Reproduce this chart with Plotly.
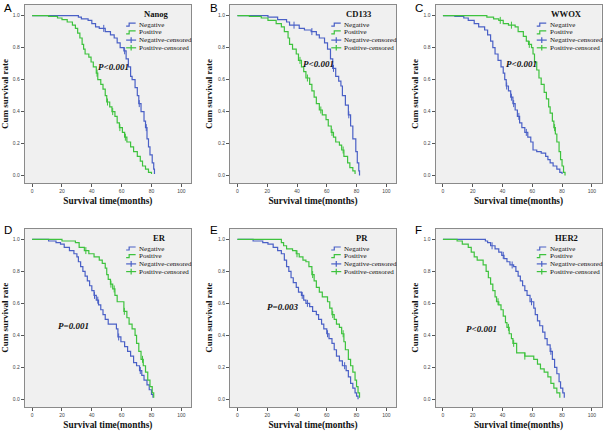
import numpy as np
import plotly.graph_objects as go

W, H = 607, 434
BLUE = "#4a60c6"
GREEN = "#3ec23e"
SERIF = "Liberation Serif, Times New Roman, serif"
SANS = "Liberation Sans, Arial, sans-serif"

panel_letters = ["A", "B", "C", "D", "E", "F"]
marker_names = ["Nanog", "CD133", "WWOX", "ER", "PR", "HER2"]
p_texts = ["P<0.001", "P<0.001", "P<0.001", "P=0.001", "P=0.003", "P<0.001"]
p_pos = [(43, 0.68), (43, 0.70), (41, 0.695), (16, 0.458), (18.3, 0.58), (14.2, 0.44)]
legend_labels = ["Negative", "Positive", "Negative-censored", "Positive-censored"]
x_ticks = [0, 20, 40, 60, 80, 100]
y_ticks = [0.0, 0.2, 0.4, 0.6, 0.8, 1.0]
x_title = "Survival time(months)"
y_title = "Cum survival rate"

# ---------------- survival data (time in months, cumulative survival) ----------------
a_neg_t = [0, 31, 33, 37.5, 40, 42.5, 45, 49, 52.5, 55, 57, 59, 61.5, 63, 64.5, 66, 67, 69, 70.5, 71.5, 73, 75, 76, 77, 78, 79, 80.5, 81.5, 82]
a_neg_s = [1, .99, .98, .97, .95, .93, .92, .90, .88, .86, .83, .80, .78, .73, .68, .62, .60, .55, .50, .45, .40, .34, .30, .23, .18, .13, .08, .04, .01]
a_pos_t = [0, 11, 17, 20, 23.5, 27, 29, 30.5, 32, 33.5, 34.5, 35.5, 38, 39.5, 41, 43, 44, 46, 47.5, 49, 50, 52, 53.5, 55.5, 57, 58.5, 60.5, 62, 63.5, 66, 68, 70.5, 72.5, 74, 76, 78, 80]
a_pos_s = [1, .995, .985, .975, .96, .94, .92, .89, .86, .82, .79, .76, .74, .71, .68, .64, .60, .57, .54, .50, .46, .43, .40, .37, .33, .30, .27, .24, .21, .18, .15, .12, .09, .06, .04, .02, .01]
a_neg_cens = [48, 62, 71.8, 76.5]
a_pos_cens = [43.5, 50.5, 54, 58.8, 62.5]

b_neg_t = [0, 20.5, 27, 33, 35, 41.5, 45, 49.5, 53, 55, 58.5, 60.5, 62.5, 64, 66, 68, 69.5, 70.5, 72.5, 74.5, 76, 77.5, 79.5, 80.5, 81.5, 82]
b_neg_s = [1, .99, .975, .96, .94, .92, .91, .90, .88, .86, .83, .79, .73, .67, .62, .59, .56, .50, .44, .38, .31, .23, .15, .08, .03, 0.0]
b_pos_t = [0, 8, 16, 20.5, 26, 29.5, 31.5, 34, 35, 37, 39.5, 41, 43, 44.5, 46, 48.5, 50, 51.5, 53, 55, 57, 59.5, 61, 63, 64.5, 66, 68.5, 70, 71.5, 74, 75.5, 77.5, 79]
b_pos_s = [1, .995, .985, .97, .95, .93, .90, .86, .82, .79, .76, .72, .68, .65, .61, .57, .53, .49, .45, .41, .38, .35, .31, .27, .24, .21, .19, .16, .12, .08, .05, .03, .01]
b_neg_cens = [38, 50, 64.5, 74.8]
b_pos_cens = [42, 47, 56, 63.5, 71]

c_neg_t = [0, 8, 14, 17, 21, 24, 28, 30, 32, 33.5, 35, 37, 39, 40.5, 41.5, 42.5, 44, 45.5, 47, 48.5, 50, 51.5, 53, 55, 57, 59, 60.5, 63, 66, 69, 70.5, 72, 74, 76.5, 78.5, 80]
c_neg_s = [1, .995, .985, .97, .95, .93, .91, .88, .84, .80, .76, .72, .68, .64, .60, .56, .53, .49, .45, .41, .37, .33, .30, .27, .24, .21, .16, .15, .14, .12, .10, .08, .06, .04, .02, .01]
c_pos_t = [0, 29.5, 34, 37.5, 40.5, 44, 48.5, 50.5, 54, 56, 57.5, 59.5, 60.5, 61.5, 63, 64.5, 66, 68, 69.5, 71, 72, 73.5, 74.5, 75.5, 76.5, 78, 79, 80, 81, 82]
c_pos_s = [1, .99, .98, .97, .95, .94, .93, .90, .87, .84, .82, .80, .76, .71, .66, .61, .57, .52, .48, .43, .39, .34, .30, .26, .21, .15, .10, .06, .02, 0.0]
c_neg_cens = [42.8, 46, 47.5, 51, 56]
c_pos_cens = [38.5, 46, 58, 75]

d_neg_t = [0, 11, 16, 19, 21.5, 25, 28, 30, 31, 32.5, 34, 35.5, 37, 38.5, 40, 41.5, 43, 44.5, 46, 47.5, 49, 51, 56.5, 57.5, 59.5, 62, 64, 66, 68, 70, 72, 73.5, 75, 77, 78.5, 80, 81]
d_neg_s = [1, .99, .98, .97, .95, .93, .91, .89, .86, .83, .80, .77, .74, .71, .68, .65, .62, .59, .56, .53, .50, .47, .44, .39, .36, .33, .30, .27, .23, .21, .18, .15, .12, .09, .06, .03, .01]
d_pos_t = [0, 20, 29, 31.5, 35, 38, 41.5, 45, 47, 49, 50, 51, 52.5, 54, 55.5, 57, 61.5, 63.5, 65, 67, 69, 70, 71.5, 73, 74.5, 76, 77.5, 79, 80.5, 81.5]
d_pos_s = [1, .99, .98, .95, .93, .91, .89, .87, .85, .82, .78, .75, .72, .69, .65, .61, .55, .51, .47, .44, .40, .35, .30, .25, .21, .17, .12, .08, .04, .01]
d_neg_cens = [41.8, 44, 58, 72.5]
d_pos_cens = [36, 52.8, 55, 61.8, 74]

e_neg_t = [0, 10.5, 17, 20.5, 24, 27, 29.5, 31.5, 33, 34.5, 36, 37.5, 39.5, 41, 43, 44.5, 46, 48.5, 50.5, 53, 54.5, 56.5, 58, 60, 61.5, 63.5, 65, 66.5, 68.5, 70.5, 73, 74.5, 76, 77.5, 79, 80, 81]
e_neg_s = [1, .99, .98, .97, .95, .93, .91, .87, .83, .80, .76, .73, .70, .67, .65, .62, .60, .58, .55, .53, .50, .47, .44, .41, .38, .35, .31, .27, .24, .21, .18, .14, .10, .07, .04, .02, 0.0]
e_pos_t = [0, 29.5, 31, 33, 37, 39.5, 41.5, 44, 46, 48, 50, 51.5, 53, 55, 57, 60.5, 62, 63.5, 65, 66.5, 68.5, 70, 71.5, 72.5, 74.5, 76, 77.5, 79, 80, 81, 82]
e_pos_s = [1, .98, .96, .94, .93, .91, .89, .87, .86, .83, .78, .74, .70, .67, .64, .61, .57, .53, .50, .47, .45, .41, .36, .31, .25, .21, .17, .12, .08, .04, .01]
e_neg_cens = [43.5, 47, 60.5, 72]
e_pos_cens = [40, 50.5, 64, 71]

f_neg_t = [0, 28.5, 30, 32, 35, 37.5, 39.5, 41, 43, 45, 47.5, 49, 50.5, 52, 53.5, 55, 56.5, 58.5, 61, 62, 63.5, 65, 67, 68.5, 70, 72, 73.5, 75, 76.5, 78, 79, 80.5, 81.5]
f_neg_s = [1, .99, .98, .96, .94, .92, .90, .88, .86, .84, .83, .80, .77, .74, .71, .68, .65, .61, .57, .53, .49, .46, .42, .38, .34, .30, .25, .20, .16, .11, .07, .04, .01]
f_pos_t = [0, 9.5, 13, 17, 19, 21, 23, 27, 29, 30.5, 32, 33.5, 35, 36, 37.5, 39, 40.5, 42, 43, 44.5, 46, 47, 49.5, 55, 61, 63.5, 65.5, 68, 70.5, 72.5, 74.5, 76.5, 78.5]
f_pos_s = [1, .99, .97, .95, .92, .89, .87, .84, .80, .76, .72, .68, .64, .61, .59, .56, .52, .48, .45, .41, .38, .35, .29, .27, .25, .22, .19, .17, .14, .10, .07, .04, .01]
f_neg_cens = [33, 40.5, 46.5, 59.5, 72.5]
f_pos_cens = [37, 44, 47.5, 55]

panels = [
    (a_neg_t, a_neg_s, a_pos_t, a_pos_s, a_neg_cens, a_pos_cens),
    (b_neg_t, b_neg_s, b_pos_t, b_pos_s, b_neg_cens, b_pos_cens),
    (c_neg_t, c_neg_s, c_pos_t, c_pos_s, c_neg_cens, c_pos_cens),
    (d_neg_t, d_neg_s, d_pos_t, d_pos_s, d_neg_cens, d_pos_cens),
    (e_neg_t, e_neg_s, e_pos_t, e_pos_s, e_neg_cens, e_pos_cens),
    (f_neg_t, f_neg_s, f_pos_t, f_pos_s, f_neg_cens, f_pos_cens),
]

# ---------------- layout geometry (pixels) ----------------
col_px = [(24.7, 191.0), (230.0, 396.0), (435.5, 601.5)]
row_px = [(4.7, 183.3), (228.5, 407.0)]
XR = [-5, 106.5]
YR = [-0.048, 1.068]
title_cx = [0.79, 0.775, 0.79, 0.81, 0.795, 0.79]


def step_value(t, s, c):
    idx = np.searchsorted(np.asarray(t), c, side="right") - 1
    return float(np.asarray(s)[idx])


def px2paper(x, y):
    return x / W, 1 - y / H


fig = go.Figure()
layout = dict(
    width=W, height=H, margin=dict(l=0, r=0, t=0, b=0),
    paper_bgcolor="white", plot_bgcolor="#f0f0f0", showlegend=False,
)
annotations = []
shapes = []

for i, (nt, ns, pt, ps, nc, pc) in enumerate(panels):
    r, c = divmod(i, 3)
    (fx0, fx1), (fy0, fy1) = col_px[c], row_px[r]
    sfx = "" if i == 0 else str(i + 1)
    xa, ya = "x" + sfx, "y" + sfx

    for t, s, color, name in [(nt, ns, BLUE, "Negative"), (pt, ps, GREEN, "Positive")]:
        fig.add_trace(go.Scatter(x=t, y=s, mode="lines", line=dict(color=color, width=1.2, shape="hv"),
                                 name=name, xaxis=xa, yaxis=ya, hoverinfo="skip"))
    for cens, t, s, color, name in [(nc, nt, ns, BLUE, "Negative-censored"), (pc, pt, ps, GREEN, "Positive-censored")]:
        fig.add_trace(go.Scatter(x=cens, y=[step_value(t, s, v) for v in cens], mode="markers",
                                 marker=dict(symbol="line-ns", size=5, line=dict(color=color, width=1)),
                                 name=name, xaxis=xa, yaxis=ya, hoverinfo="skip"))

    axcommon = dict(showline=True, mirror=True, linecolor="#8a8a8a", linewidth=1,
                    ticks="outside", ticklen=3, tickcolor="#555", tickwidth=1,
                    showgrid=False, zeroline=False, automargin=False,
                    tickfont=dict(family=SANS, size=5, color="#444"))
    layout["xaxis" + sfx] = dict(axcommon, domain=[fx0 / W, fx1 / W], range=XR,
                                 tickvals=x_ticks, ticktext=[str(v) for v in x_ticks],
                                 anchor=ya,
                                 title=dict(text=x_title, standoff=4,
                                            font=dict(family=SERIF, size=9.3, color="#111", weight="bold")))
    layout["yaxis" + sfx] = dict(axcommon, domain=[1 - fy1 / H, 1 - fy0 / H], range=YR,
                                 tickvals=y_ticks, ticktext=["%.1f" % v for v in y_ticks],
                                 anchor=xa,
                                 title=dict(text=y_title, standoff=3,
                                            font=dict(family=SERIF, size=9, color="#111", weight="bold")))

    # panel letter
    lx, ly = px2paper(fx0 - 22.5, max(0.0, fy0 - 7))
    annotations.append(dict(text=panel_letters[i], x=lx, y=ly, xref="paper", yref="paper",
                            xanchor="left", yanchor="top", showarrow=False,
                            font=dict(family=SANS, size=11.5, color="#000")))
    # p value
    px_, py_ = p_pos[i]
    annotations.append(dict(text="<b><i>%s</i></b>" % p_texts[i], x=px_, y=py_, xref=xa, yref=ya,
                            xanchor="left", yanchor="middle", showarrow=False,
                            font=dict(family=SERIF, size=9, color="#111")))
    # key drawn inside the frame
    w = fx1 - fx0
    tx, ty = px2paper(fx0 + title_cx[i] * w, fy0 + 9.5)
    annotations.append(dict(text="<b>%s</b>" % marker_names[i], x=tx, y=ty, xref="paper", yref="paper",
                            xanchor="center", yanchor="middle", showarrow=False,
                            font=dict(family=SERIF, size=8.6, color="#111")))
    icon_l = fx0 + 0.61 * w
    for k, lab in enumerate(legend_labels):
        yy = fy0 + 20.0 + 7.7 * k
        color = BLUE if k % 2 == 0 else GREEN
        ax_, ay_ = px2paper(icon_l + 11, yy)
        annotations.append(dict(text=lab, x=ax_, y=ay_, xref="paper", yref="paper",
                                xanchor="left", yanchor="middle", showarrow=False,
                                font=dict(family=SERIF, size=7, color="#111")))
        if k < 2:
            pts = [(icon_l, yy + 1.5), (icon_l + 3, yy + 1.5), (icon_l + 3, yy - 1.5), (icon_l + 9.5, yy - 1.5)]
            path = "M " + " L ".join("%.5f,%.5f" % px2paper(a, b) for a, b in pts)
            shapes.append(dict(type="path", path=path, xref="paper", yref="paper",
                               line=dict(color=color, width=1.2)))
        else:
            x0p, y0p = px2paper(icon_l, yy)
            x1p, _ = px2paper(icon_l + 10, yy)
            shapes.append(dict(type="line", x0=x0p, x1=x1p, y0=y0p, y1=y0p, xref="paper", yref="paper",
                               line=dict(color=color, width=1.2)))
            xm, ya0 = px2paper(icon_l + 5, yy - 2.8)
            _, ya1 = px2paper(icon_l + 5, yy + 2.8)
            shapes.append(dict(type="line", x0=xm, x1=xm, y0=ya0, y1=ya1, xref="paper", yref="paper",
                               line=dict(color=color, width=1.2)))

layout["annotations"] = annotations
layout["shapes"] = shapes
fig.update_layout(**layout)
fig.write_html("out.html", config={"displayModeBar": False},
               post_script="document.body.style.margin='0';document.body.style.overflow='hidden';")
